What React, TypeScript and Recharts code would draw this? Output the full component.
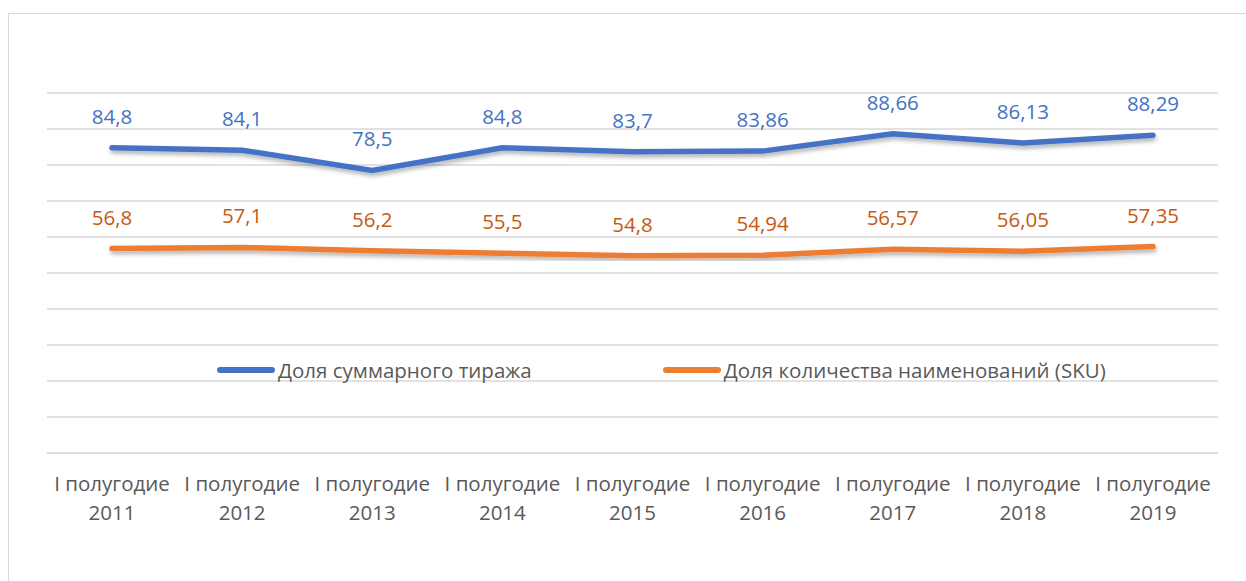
import React from 'react';
import { LineChart, Line, XAxis, YAxis, CartesianGrid, Legend } from 'recharts';

const categories = ['2011', '2012', '2013', '2014', '2015', '2016', '2017', '2018', '2019'];
const periodLabel = 'I полугодие';
const circulationShare = [84.8, 84.1, 78.5, 84.8, 83.7, 83.86, 88.66, 86.13, 88.29];
const skuShare = [56.8, 57.1, 56.2, 55.5, 54.8, 54.94, 56.57, 56.05, 57.35];
const circulationName = 'Доля суммарного тиража';
const skuName = 'Доля количества наименований (SKU)';
const yTicks = [0, 10, 20, 30, 40, 50, 60, 70, 80, 90, 100];

const data = categories.map((c, i) => ({
  year: c,
  circ: circulationShare[i],
  sku: skuShare[i],
}));

const FONT = '"Open Sans", "Noto Sans", sans-serif';
const BLUE = '#4472C4';
const ORANGE = '#ED7D31';
const ORANGE_LABEL = '#C55A11';
const GRID = '#d9d9d9';
const FS = 20.5;

const fmt = (v: number) => String(v).replace('.', ',');

const makeLabel = (color: string) => (props: any) => {
  const { x, y, value } = props;
  return (
    <text x={x} y={y - 32} textAnchor="middle" dominantBaseline="central" fill={color} fontSize={FS} fontFamily={FONT}>
      {fmt(value)}
    </text>
  );
};

const Tick = (props: any) => {
  const { x, y, payload } = props;
  return (
    <g>
      <text x={x} y={y + 22} textAnchor="middle" dominantBaseline="central" fill="#595959" fontSize={FS} fontFamily={FONT}>
        {periodLabel}
      </text>
      <text x={x} y={y + 51} textAnchor="middle" dominantBaseline="central" fill="#595959" fontSize={FS} fontFamily={FONT}>
        {payload.value}
      </text>
    </g>
  );
};

const LegendContent = (props: any) => {
  const { payload } = props;
  const items = [...(payload || [])].sort((a: any, b: any) => (a.dataKey === 'circ' ? -1 : b.dataKey === 'circ' ? 1 : 0));
  return (
    <div style={{ display: 'flex', alignItems: 'center', fontFamily: FONT, fontSize: FS, color: '#595959' }}>
      {items.map((p: any, i: number) => (
        <div key={i} style={{ display: 'flex', alignItems: 'center', marginRight: i === 0 ? 130 : 0 }}>
          <svg width={60} height={10} style={{ marginRight: 2 }}>
            <line x1={4} y1={5} x2={56} y2={5} stroke={p.color} strokeWidth={6} strokeLinecap="round" />
          </svg>
          <span>{p.value}</span>
        </div>
      ))}
    </div>
  );
};

export default function App() {
  return (
    <div style={{ position: 'absolute', left: 0, top: 0, width: 1246, height: 581, overflow: 'hidden', background: '#fff' }}>
      <div style={{ position: 'absolute', left: 8, top: 13, width: 1300, height: 700, border: `1px solid ${GRID}` }} />
      <div style={{ position: 'absolute', left: 0, top: 0 }}>
        <LineChart width={1246} height={581} data={data} margin={{ top: 93, left: 47, right: 28, bottom: 68 }}>
          <defs>
            <filter id="shadow" x="-5%" y="-50%" width="110%" height="200%">
              <feDropShadow dx="1" dy="3" stdDeviation="2" floodColor="#000" floodOpacity="0.3" />
            </filter>
          </defs>
          <CartesianGrid vertical={false} stroke={GRID} strokeWidth={1.5} />
          <XAxis
            dataKey="year"
            tick={<Tick />}
            tickLine={false}
            axisLine={{ stroke: GRID, strokeWidth: 1.5 }}
            height={60}
            interval={0}
            padding={{ left: 65, right: 65 }}
          />
          <YAxis hide domain={[0, 100]} ticks={yTicks} />
          <Legend
            content={<LegendContent />}
            layout="horizontal"
            verticalAlign="middle"
            align="center"
            wrapperStyle={{ position: 'absolute', top: 356, left: 216, width: 1000, bottom: 'auto' }}
          />
          <Line
            type="linear"
            dataKey="circ"
            name={circulationName}
            stroke={BLUE}
            strokeWidth={5.5}
            strokeLinecap="round"
            dot={false}
            filter="url(#shadow)"
            label={makeLabel(BLUE)}
            isAnimationActive={false}
          />
          <Line
            type="linear"
            dataKey="sku"
            name={skuName}
            stroke={ORANGE}
            strokeWidth={5.5}
            strokeLinecap="round"
            dot={false}
            filter="url(#shadow)"
            label={makeLabel(ORANGE_LABEL)}
            isAnimationActive={false}
          />
        </LineChart>
      </div>
    </div>
  );
}
